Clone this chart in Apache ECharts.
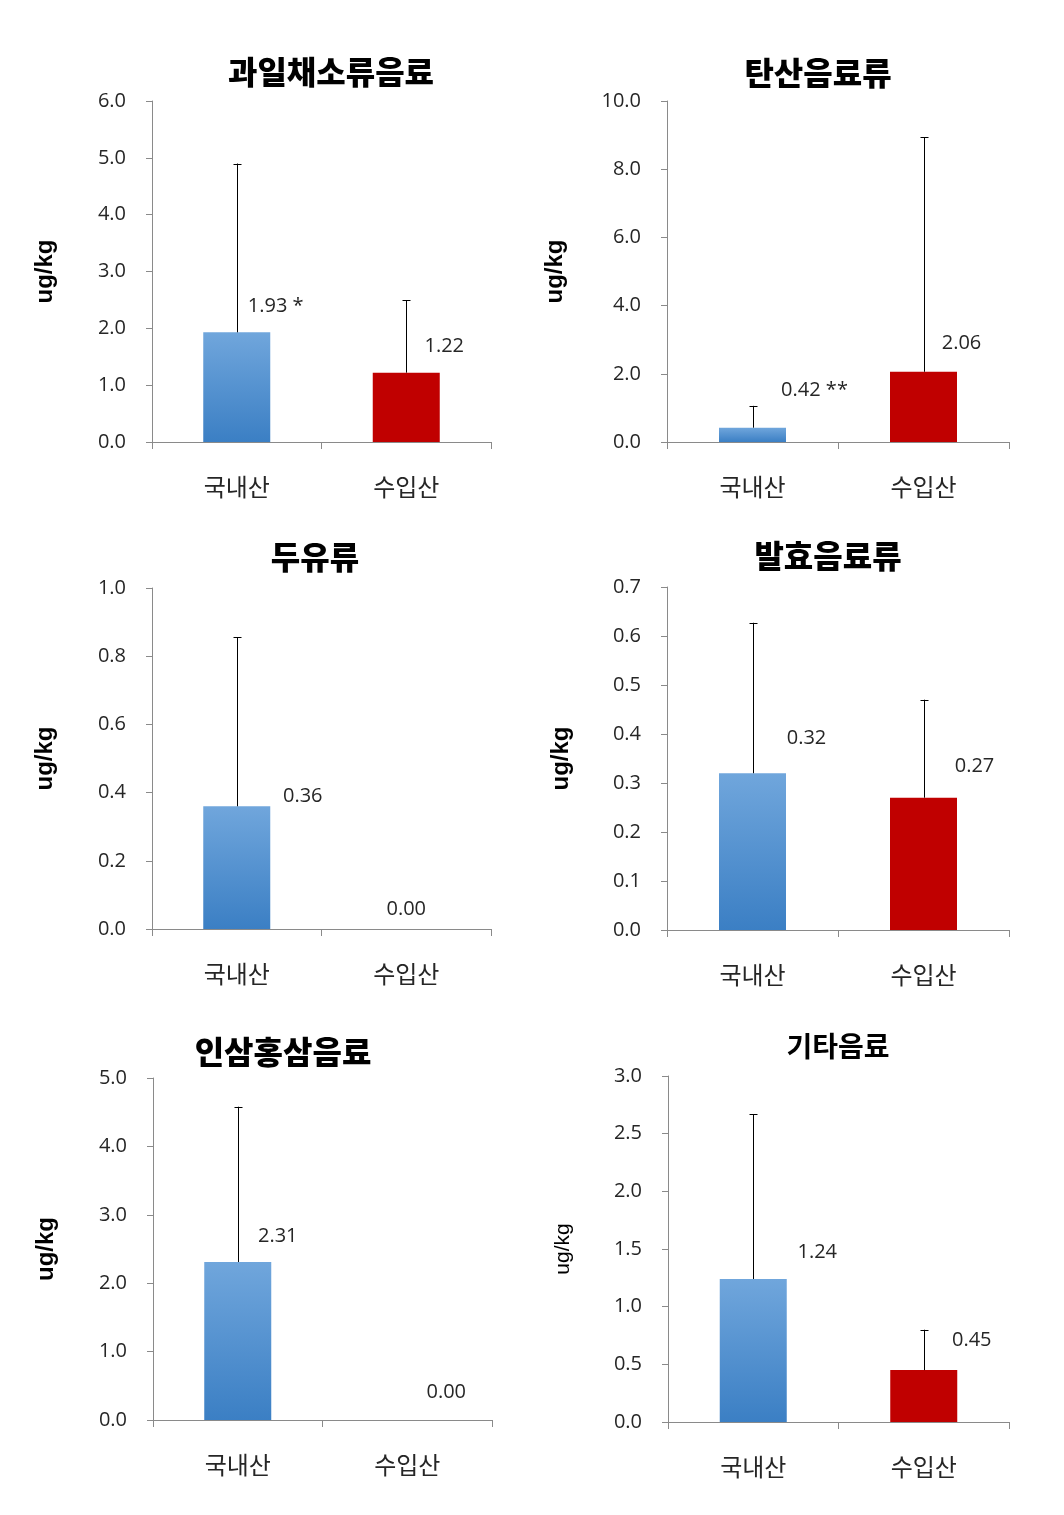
<!DOCTYPE html>
<html>
<head>
<meta charset="utf-8">
<script src="https://cdn.jsdelivr.net/npm/echarts@6/dist/echarts.min.js"></script>
<style>
html,body{margin:0;padding:0;background:#fff;}
#chart{width:1064px;height:1515px;}
</style>
</head>
<body>
<div id="chart"></div>
<script>
// ---- data ----
const categories = ['국내산', '수입산'];
const panelTitles = ['과일채소류음료', '탄산음료류', '두유류', '발효음료류', '인삼홍삼음료', '기타음료'];
const yAxisName = 'ug/kg';

const fruitVegMean = [1.93, 1.22];
const fruitVegUpper = [4.90, 2.49];
const carbonatedMean = [0.42, 2.06];
const carbonatedUpper = [1.06, 8.94];
const soyMilkMean = [0.36, 0.00];
const soyMilkUpper = [0.855, null];
const fermentedMean = [0.32, 0.27];
const fermentedUpper = [0.627, 0.47];
const ginsengMean = [2.31, 0.00];
const ginsengUpper = [4.58, null];
const otherMean = [1.24, 0.45];
const otherUpper = [2.67, 0.80];

const sigMarks = [['*', ''], ['**', ''], ['', ''], ['', ''], ['', ''], ['', '']];
const yMaxes = [6, 10, 1, 0.7, 5, 3];
const yIntervals = [1, 2, 0.2, 0.1, 1, 0.5];

// ---- layout / style (not data) ----
const means = [fruitVegMean, carbonatedMean, soyMilkMean, fermentedMean, ginsengMean, otherMean];
const uppers = [fruitVegUpper, carbonatedUpper, soyMilkUpper, fermentedUpper, ginsengUpper, otherUpper];
const grids = [
  {left: 152, top: 101, width: 339, height: 341},
  {left: 667, top: 101, width: 342, height: 341},
  {left: 152, top: 588, width: 339, height: 341},
  {left: 667, top: 587, width: 342, height: 343},
  {left: 153, top: 1078, width: 339, height: 342},
  {left: 668, top: 1076, width: 341, height: 346}
];
const titlePos = [[331, 72], [818, 73], [315, 557], [828, 556], [283, 1052], [838, 1046]];
const titleSize = [32, 32, 32, 32, 32, 28];
const labelOffsets = [
  [[39, -11], [38, -11]],
  [[62, -22], [38, -13]],
  [[66, 5], [0, -5]],
  [[54, -20], [51, -16]],
  [[40, -11], [39, -13]],
  [[64, -12], [48, -15]]
];
const nameStyles = [
  {gap: 95, bold: true, size: 24},
  {gap: 100, bold: true, size: 24},
  {gap: 95, bold: true, size: 24},
  {gap: 94, bold: true, size: 24},
  {gap: 95, bold: true, size: 24},
  {gap: 94, bold: false, size: 21}
];

const NUMFONT = '"Open Sans", "Noto Sans CJK KR", sans-serif';
const KRFONT = '"Noto Sans CJK KR", sans-serif';
const AXIS_COLOR = '#8a8a8a';
const TEXT_COLOR = '#262626';
const blueGrad = new echarts.graphic.LinearGradient(0, 0, 0, 1, [
  {offset: 0, color: '#70a6dc'},
  {offset: 1, color: '#3b7fc4'}
]);
const redColor = '#c00000';

const option = {
  animation: false,
  backgroundColor: '#fff',
  grid: [], xAxis: [], yAxis: [], series: [], graphic: []
};

for (let i = 0; i < 6; i++) {
  option.grid.push(Object.assign({containLabel: false}, grids[i]));
  option.xAxis.push({
    type: 'category', gridIndex: i, data: categories,
    axisLine: {lineStyle: {color: AXIS_COLOR, width: 1}},
    axisTick: {show: true, length: 7, lineStyle: {color: AXIS_COLOR}},
    axisLabel: {color: TEXT_COLOR, fontSize: 24, fontFamily: KRFONT, margin: 33}
  });
  const ns = nameStyles[i];
  option.yAxis.push({
    type: 'value', gridIndex: i, min: 0, max: yMaxes[i], interval: yIntervals[i],
    name: yAxisName, nameLocation: 'middle', nameRotate: 90, nameGap: ns.gap,
    nameTextStyle: {fontSize: ns.size, fontWeight: ns.bold ? 'bold' : 'normal', color: '#000', fontFamily: '"Liberation Sans", Arial, sans-serif'},
    axisLine: {show: true, lineStyle: {color: AXIS_COLOR, width: 1}},
    axisTick: {show: true, length: 6, lineStyle: {color: AXIS_COLOR}},
    splitLine: {show: false},
    axisLabel: {color: TEXT_COLOR, fontSize: 20, fontFamily: NUMFONT, margin: 26,
      formatter: v => v.toFixed(1)}
  });
  const m = means[i];
  option.series.push({
    type: 'bar', xAxisIndex: i, yAxisIndex: i, barWidth: 67,
    data: m.map((v, j) => ({
      value: v,
      itemStyle: {color: j === 0 ? blueGrad : redColor},
      label: {
        show: true, position: 'top', offset: labelOffsets[i][j],
        color: TEXT_COLOR, fontSize: 20, fontFamily: NUMFONT,
        formatter: () => v.toFixed(2) + (sigMarks[i][j] ? ' ' + sigMarks[i][j] : '')
      }
    })),
    z: 2
  });
  const errData = [];
  uppers[i].forEach((u, j) => { if (u != null) errData.push([j, m[j], u]); });
  option.series.push({
    type: 'custom', xAxisIndex: i, yAxisIndex: i, z: 3,
    encode: {x: 0, y: [1, 2]},
    data: errData,
    renderItem: (params, api) => {
      const p0 = api.coord([api.value(0), api.value(1)]);
      const p1 = api.coord([api.value(0), api.value(2)]);
      const cap = 4;
      const style = {stroke: '#000', lineWidth: 1};
      const x = Math.round(p0[0]) + 0.5;
      return {
        type: 'group',
        children: [
          {type: 'line', shape: {x1: x, y1: p0[1], x2: x, y2: p1[1]}, style},
          {type: 'line', shape: {x1: x - cap, y1: Math.round(p1[1]) + 0.5, x2: x + cap, y2: Math.round(p1[1]) + 0.5}, style}
        ]
      };
    }
  });
  option.graphic.push({
    type: 'text', x: titlePos[i][0], y: titlePos[i][1],
    style: {text: panelTitles[i], fill: '#000', font: (i === 5 ? 'bold ' : '900 ') + titleSize[i] + 'px ' + KRFONT,
      align: 'center', verticalAlign: 'middle', textAlign: 'center', textVerticalAlign: 'middle'}
  });
}

const chart = echarts.init(document.getElementById('chart'), null, {renderer: 'canvas'});
chart.setOption(option);
</script>
</body>
</html>
